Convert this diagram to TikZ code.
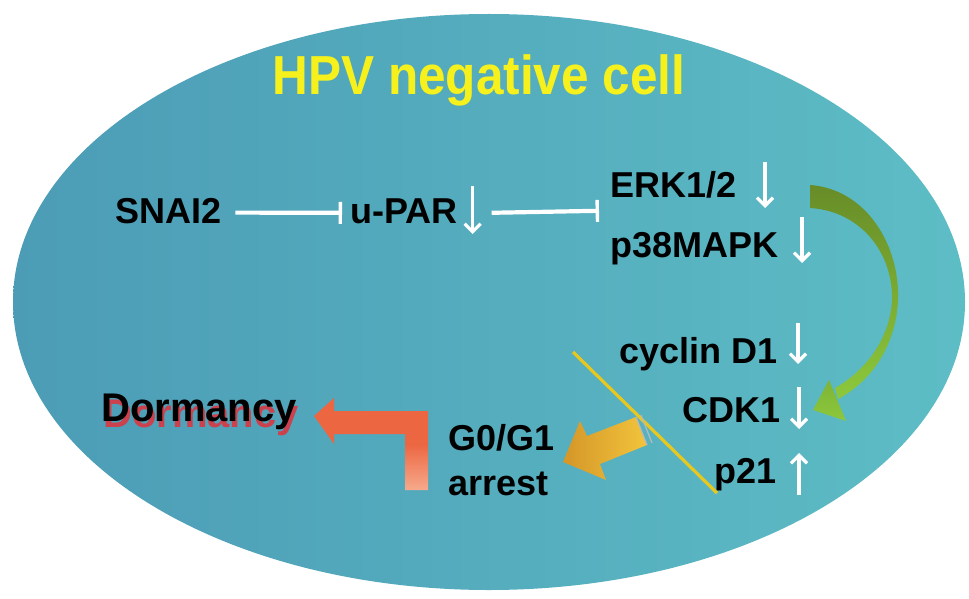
\documentclass[tikz,border=0pt]{standalone}
\usepackage{fontspec}
\setmainfont{Liberation Sans}
\usetikzlibrary{arrows.meta,calc}
\definecolor{cellL}{RGB}{76,156,182}
\definecolor{cellR}{RGB}{93,189,197}
\definecolor{titleyellow}{RGB}{246,240,28}
\definecolor{linegold}{RGB}{232,200,30}
\definecolor{greendark}{RGB}{104,140,40}
\definecolor{greenlight}{RGB}{140,200,60}
\definecolor{goldA}{RGB}{212,150,40}
\definecolor{goldB}{RGB}{242,196,60}
\definecolor{orangeA}{RGB}{236,102,66}
\definecolor{orangeB}{RGB}{246,170,140}
\definecolor{shadowred}{RGB}{226,50,60}
\begin{document}
\begin{tikzpicture}[x=1pt,y=-1pt,
  lbl/.style={inner sep=0pt, font=\bfseries\fontsize{36}{40}\selectfont, text=black},
  inhib/.style={draw=white, line width=4.2pt, -{Bar[width=22pt,line width=3.4pt]}},
  dnarr/.style={draw=white, line width=3.4pt, -{Straight Barb[length=8pt,width=16pt,line width=3.2pt]}},
]
\useasboundingbox (0,0) rectangle (969,599);
% cell
\shade[left color=cellL, right color=cellR] (489,302) ellipse [x radius=476, y radius=288];

% title
\node[inner sep=0pt, anchor=base, text=titleyellow, font=\bfseries\fontsize{55}{60}\selectfont] (title) at (479,95) {\scalebox{0.9}[1]{HPV negative cell}};

% labels
\node[lbl, anchor=base west] (snai) at (115,223) {SNAI2};
\node[lbl, anchor=base west] (upar) at (350,223) {u-PAR};
\node[lbl, anchor=base west] (erk) at (610,197) {ERK1/2};
\node[lbl, anchor=base west] (p38) at (610,257) {p38MAPK};
\node[lbl, anchor=base east] (cyc) at (778,363) {cyclin D1};
\node[lbl, anchor=base east] (cdk) at (781,422) {CDK1};
\node[lbl, anchor=base east] (p21) at (777,483) {p21};
\node[lbl, anchor=base west] (g0) at (448,450) {G0/G1};
\node[lbl, anchor=base west] (arr) at (448,495) {arrest};
\node[inner sep=0pt, anchor=base west, text=black, font=\bfseries\fontsize{40}{44}\selectfont] (dorm) at (101,421)
  {\makebox[0pt][l]{\hspace{2pt}\raisebox{-6pt}{\color{shadowred!85!cellL}Dormancy}}Dormancy};

% inhibition lines
\draw[inhib] ([xshift=14pt,yshift=-2pt]snai.east) -- ([xshift=-8pt,yshift=-2pt]upar.west);
\draw[inhib] ([xshift=34pt,yshift=-2pt]upar.east) -- ([xshift=-11pt]upar.east -| erk.west);

% white up/down arrows
\draw[dnarr] ([xshift=15pt]upar.east |- 0,186) coordinate (ua) -- ++(0,48);
\draw[dnarr] (765,162) coordinate (ea) -- (765,208);
\draw[dnarr] (802,217) coordinate (pa) -- (802,263);
\draw[dnarr] (798,323) coordinate (ca) -- (798,364);
\draw[dnarr] (799,387) coordinate (ka) -- (799,429);
\draw[dnarr] (799,495) coordinate (qa) -- (799,453);

% yellow separator line
\coordinate (ls) at (573,352);
\coordinate (le) at (717,493);
\draw[linegold, line width=3.2pt] (ls) -- (le);

% gold block arrow (cell-cycle markers -> arrest)
\shade[left color=goldA, right color=goldB]
  (636,417) -- (647,445) -- (600,464) -- (606,480) -- (563,462) -- (580,421) -- (587,436) -- cycle;
\draw[gray!55!white, line width=1.2pt] (636,417) -- (647,445);
\draw[gray!55!white, line width=1.2pt] (641,415) -- (652,443);

% orange L arrow (arrest -> dormancy)
\shade[top color=orangeA, bottom color=orangeB, middle color=orangeA]
  (405,490) -- (405,434) -- (334,434) -- (334,444) -- (314,416) -- (334,398) -- (334,411) -- (428,411) -- (428,490) -- cycle;

% green curved arrow (ERK/p38 -> cell cycle)
\shade[top color=greendark, bottom color=greenlight]
  (810,185) .. controls (866,189) and (900,245) .. (898,300)
  .. controls (896,345) and (872,381) .. (838,399)
  -- (835,388)
  .. controls (864,372) and (890,340) .. (892,300)
  .. controls (893,252) and (860,211) .. (810,208) -- cycle;
\shade[top color=greenlight!90!black, bottom color=greenlight]
  (813,410) -- (829,380) -- (846,421) -- cycle;
\end{tikzpicture}
\end{document}
